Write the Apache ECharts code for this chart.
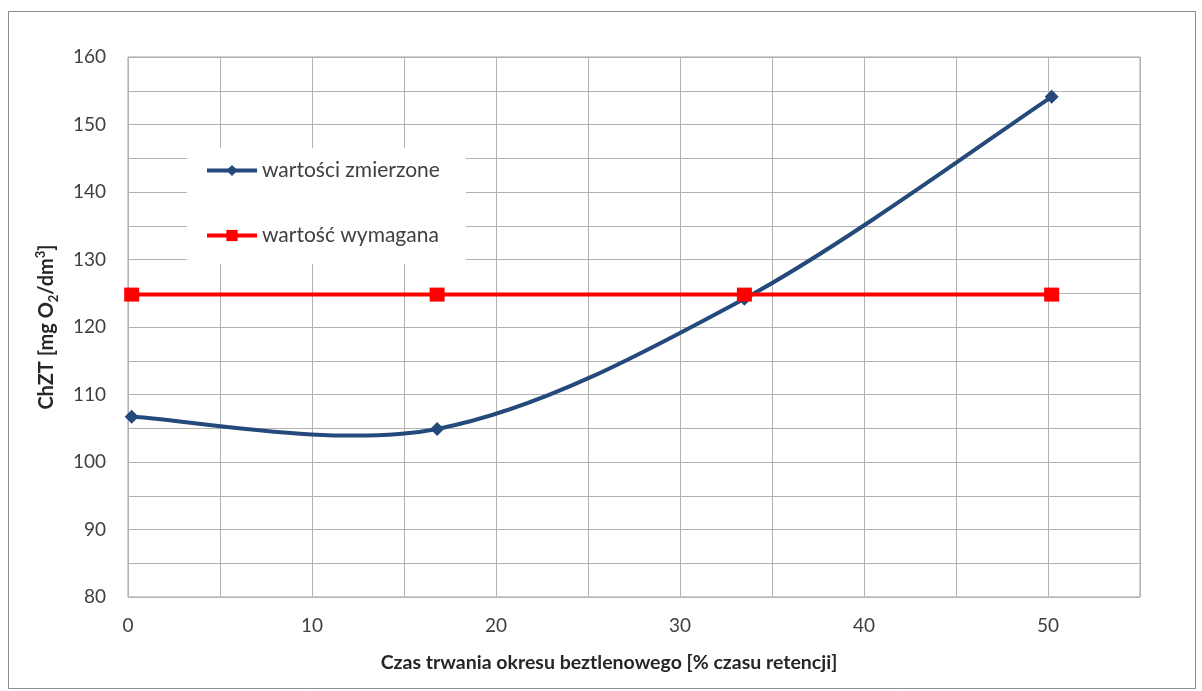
<!DOCTYPE html>
<html>
<head>
<meta charset="utf-8">
<script src="https://cdn.jsdelivr.net/npm/echarts@6/dist/echarts.min.js"></script>
<style>
  html, body { margin: 0; padding: 0; background: #fff; }
  #chart { width: 1202px; height: 691px; }
</style>
</head>
<body>
<div id="chart"></div>
<script>
// Anaerobic phase duration [% of retention time]
const xValues = [0.2, 16.8, 33.5, 50.2];
// Measured COD values [mg O2/dm3]
const measured = [106.7, 104.9, 124.2, 154.1];
// Required COD limit [mg O2/dm3]
const required = [124.8, 124.8, 124.8, 124.8];

const seriesNames = ['wartości zmierzone', 'wartość wymagana'];
const xTitle = 'Czas trwania okresu beztlenowego [% czasu retencji]';

const FONT = 'Lato, "Liberation Sans", sans-serif';
const BLUE = '#24497b';
const RED = '#ff0000';

// Smooth curve through the measured points (cubic Bezier segments whose
// control points follow the neighbouring points, 1/6 tension).
function smoothPath(pts) {
  const n = pts.length;
  let d = 'M' + pts[0][0] + ' ' + pts[0][1];
  for (let i = 0; i < n - 1; i++) {
    const p0 = pts[Math.max(i - 1, 0)];
    const p1 = pts[i];
    const p2 = pts[i + 1];
    const p3 = pts[Math.min(i + 2, n - 1)];
    const c1 = [p1[0] + (p2[0] - p0[0]) / 6, p1[1] + (p2[1] - p0[1]) / 6];
    const c2 = [p2[0] - (p3[0] - p1[0]) / 6, p2[1] - (p3[1] - p1[1]) / 6];
    d += ' C' + c1[0] + ' ' + c1[1] + ' ' + c2[0] + ' ' + c2[1] + ' ' + p2[0] + ' ' + p2[1];
  }
  return d;
}

const measuredData = xValues.map((x, i) => [x, measured[i]]);
const requiredData = xValues.map((x, i) => [x, required[i]]);

const chart = echarts.init(document.getElementById('chart'));

chart.setOption({
  backgroundColor: '#ffffff',
  animation: false,
  textStyle: { fontFamily: FONT },
  graphic: [{
    type: 'rect',
    shape: { x: 8.5, y: 11.5, width: 1187, height: 677 },
    style: { fill: 'none', stroke: '#8c8c8c', lineWidth: 1 },
    silent: true,
    z: -10
  }],
  grid: { left: 128, right: 62, top: 57, bottom: 94, show: true, borderColor: '#a0a0a0', borderWidth: 1 },
  legend: {
    orient: 'vertical',
    left: 187,
    top: 148,
    backgroundColor: '#ffffff',
    padding: [12, 26, 18, 18],
    itemGap: 44,
    itemWidth: 50,
    itemHeight: 14,
    textStyle: { fontSize: 21, color: '#404040', fontFamily: FONT },
    data: [
      { name: seriesNames[0], lineStyle: { opacity: 1, color: BLUE, width: 4 } },
      { name: seriesNames[1], lineStyle: { color: RED, width: 4 } }
    ]
  },
  xAxis: {
    type: 'value',
    min: 0,
    max: 55,
    interval: 5,
    axisLine: { show: false },
    axisTick: { show: false },
    splitLine: { show: true, lineStyle: { color: '#b3b3b3', width: 1 } },
    axisLabel: {
      margin: 19,
      fontSize: 19,
      color: '#404040',
      showMaxLabel: false,
      formatter: v => (v % 10 === 0 ? String(v) : '')
    },
    name: xTitle,
    nameLocation: 'middle',
    nameGap: 56,
    nameTextStyle: { fontSize: 19.5, fontWeight: 'bold', color: '#262626', fontFamily: FONT, padding: [0, 50, 0, 0] }
  },
  yAxis: {
    type: 'value',
    min: 80,
    max: 160,
    interval: 5,
    axisLine: { show: false },
    axisTick: { show: false },
    splitLine: { show: true, lineStyle: { color: '#b3b3b3', width: 1 } },
    axisLabel: {
      margin: 22,
      fontSize: 19,
      color: '#404040',
      formatter: v => (v % 10 === 0 ? String(v) : '')
    },
    name: '{b|ChZT [mg O}{sub|2}{b|/dm}{sup|3}{b|]}',
    nameLocation: 'middle',
    nameRotate: 90,
    nameGap: 68,
    nameTextStyle: {
      padding: [0, 0, 0, 0],
      rich: {
        b: { fontSize: 20, fontWeight: 'bold', color: '#262626', fontFamily: FONT, lineHeight: 26 },
        sub: { fontSize: 13, fontWeight: 'bold', color: '#262626', fontFamily: FONT, verticalAlign: 'bottom', lineHeight: 26, padding: [9, 0, 0, 0] },
        sup: { fontSize: 13, fontWeight: 'bold', color: '#262626', fontFamily: FONT, verticalAlign: 'top', lineHeight: 26, padding: [0, 0, 9, 0] }
      }
    }
  },
  series: [
    {
      // curve of the measured series, drawn from the same points
      type: 'custom',
      coordinateSystem: 'cartesian2d',
      data: measuredData,
      encode: { x: 0, y: 1 },
      silent: true,
      z: 1,
      renderItem: (params, api) => {
        if (params.dataIndex !== 0) return null;
        const pts = measuredData.map(p => api.coord(p));
        return {
          type: 'path',
          shape: { pathData: smoothPath(pts) },
          style: { fill: 'none', stroke: BLUE, lineWidth: 4, lineJoin: 'round', lineCap: 'round' }
        };
      }
    },
    {
      name: seriesNames[0],
      type: 'line',
      data: measuredData,
      symbol: 'diamond',
      symbolSize: 14,
      lineStyle: { opacity: 0 },
      itemStyle: { color: BLUE },
      z: 2
    },
    {
      name: seriesNames[1],
      type: 'line',
      data: requiredData,
      symbol: 'rect',
      symbolSize: [15, 14],
      lineStyle: { color: RED, width: 4 },
      itemStyle: { color: RED },
      z: 3
    }
  ]
});
</script>
</body>
</html>
